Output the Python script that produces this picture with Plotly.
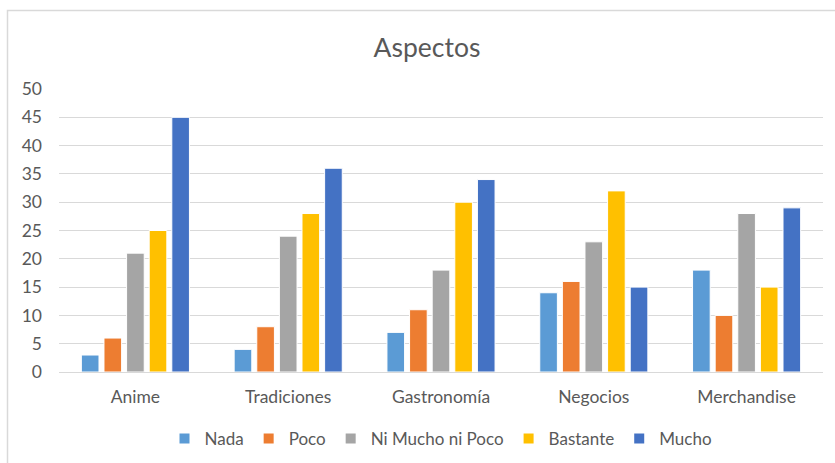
import plotly.graph_objects as go

categories = ["Anime", "Tradiciones", "Gastronomía", "Negocios", "Merchandise"]
series_names = ["Nada", "Poco", "Ni Mucho ni Poco", "Bastante", "Mucho"]
nada = [3, 4, 7, 14, 18]
poco = [6, 8, 11, 16, 10]
ni_mucho_ni_poco = [21, 24, 18, 23, 28]
bastante = [25, 28, 30, 32, 15]
mucho = [45, 36, 34, 15, 29]
y_ticks = [0, 5, 10, 15, 20, 25, 30, 35, 40, 45, 50]

colors = ["#5B9BD5", "#ED7D31", "#A5A5A5", "#FFC000", "#4472C4"]
series_values = [nada, poco, ni_mucho_ni_poco, bastante, mucho]

W, H = 835, 463
L, R, T, B = 59, 12, 89, 91

fig = go.Figure()
for name, vals, col in zip(series_names, series_values, colors):
    fig.add_trace(go.Bar(
        x=categories, y=vals, name=name,
        marker=dict(color=col, line=dict(color="white", width=1)),
    ))

font_family = "Lato, 'Open Sans', sans-serif"
pw = W - L - R
ph = H - T - B

fig.update_layout(
    width=W, height=H,
    margin=dict(l=L, r=R, t=T, b=B, autoexpand=False),
    paper_bgcolor="white", plot_bgcolor="white",
    barmode="group", bargap=0.26, bargroupgap=0.22,
    font=dict(family=font_family, color="#595959", size=17),
    title=dict(text="Aspectos", x=427 / W, xanchor="center", y=1 - 48 / H, yanchor="middle",
               font=dict(size=26.5, color="#595959", family=font_family)),
    showlegend=True,
    legend=dict(orientation="h", x=0.5, xanchor="center", y=-(439 - (H - B)) / ph, yanchor="middle",
                font=dict(size=17, color="#595959"), traceorder="normal",
                itemwidth=30, itemsizing="constant"),
    xaxis=dict(showgrid=False, showline=True, linecolor="#D9D9D9", linewidth=1, automargin=False,
               ticks="", ticklabelstandoff=9, tickfont=dict(size=17.5, color="#595959")),
    yaxis=dict(range=[0, 50], tickvals=y_ticks, showgrid=True, gridcolor="#D9D9D9", gridwidth=1,
               automargin=False,
               zeroline=False, showline=False, ticks="", ticklabelstandoff=16,
               tickfont=dict(size=17.5, color="#595959")),
    shapes=[dict(type="rect", xref="paper", yref="paper",
                 x0=(7.5 - L) / pw, x1=(W + 20 - L) / pw,
                 y0=-(H + 20 - (H - B)) / ph, y1=((H - B) - 10.5) / ph,
                 line=dict(color="#D9D9D9", width=1.5), fillcolor="rgba(0,0,0,0)", layer="below")],
)

fig.write_html("out.html")
